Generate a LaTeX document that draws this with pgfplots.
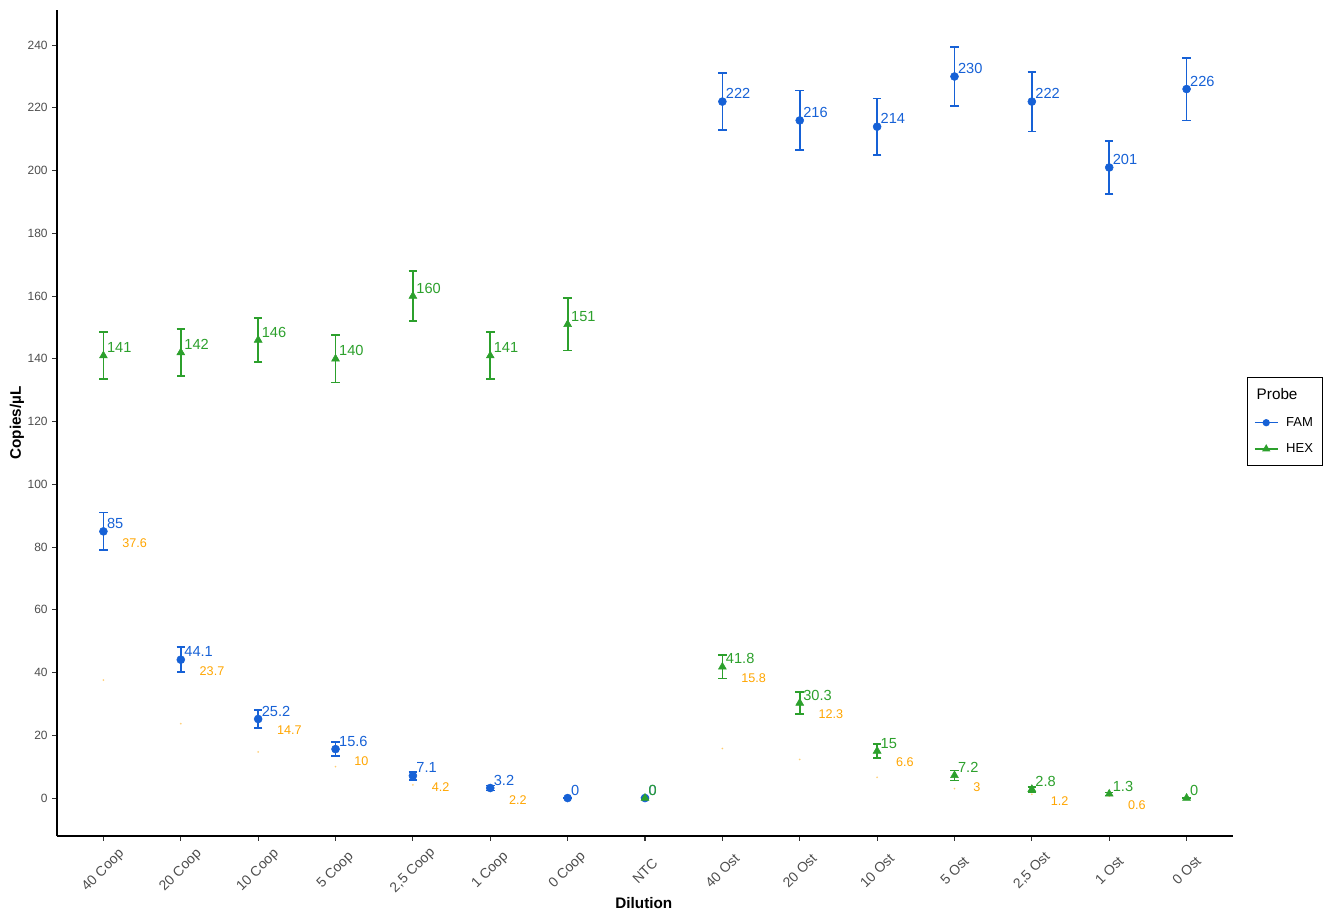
\documentclass[border=0pt]{standalone}
\usepackage{pgfplots}
\pgfplotsset{compat=1.18}
\usepackage{pgfplotstable}
\usepackage{fontspec}
\setmainfont{Liberation Sans}
\definecolor{famblue}{RGB}{22,97,214}
\definecolor{hexgreen}{RGB}{44,160,44}
\definecolor{lblorange}{RGB}{255,165,0}
\definecolor{tickgrey}{RGB}{77,77,77}

\pgfplotstableread{
x y e lab
0 85 6 85
1 44.1 4 44.1
2 25.2 2.8 25.2
3 15.6 2.2 15.6
4 7.1 1.3 7.1
5 3.2 0.8 3.2
6 0 0 0
7 0 0 0
8 222 9 222
9 216 9.5 216
10 214 9 214
11 230 9.5 230
12 222 9.5 222
13 201 8.5 201
14 226 10 226
}\famdata

\pgfplotstableread{
x y e lab
0 141 7.5 141
1 142 7.5 142
2 146 7 146
3 140 7.5 140
4 160 8 160
5 141 7.5 141
6 151 8.3 151
7 0 0 0
8 41.8 3.7 41.8
9 30.3 3.5 30.3
10 15 2.3 15
11 7.2 1.6 7.2
12 2.8 0.8 2.8
13 1.3 0.5 1.3
14 0 0 0
}\hexdata

\pgfplotstableread{
x yref val
0 85 37.6
1 44.1 23.7
2 25.2 14.7
3 15.6 10
4 7.1 4.2
5 3.2 2.2
8 41.8 15.8
9 30.3 12.3
10 15 6.6
11 7.2 3
12 2.8 1.2
13 1.3 0.6
}\orangedata

\begin{document}
\begin{tikzpicture}
\begin{axis}[
  name=ax,
  scale only axis,
  width=882bp, height=619.5bp,
  xmin=-0.6, xmax=14.6,
  ymin=-12.1, ymax=251.2,
  axis x line=bottom, axis y line=left,
  axis line style={-, line width=0.8bp, black},
  tick align=outside,
  major tick length=3.5bp,
  tick style={line width=0.8bp, color=black!80},
  xtick={0,...,14},
  xticklabels={40 Coop,20 Coop,10 Coop,5 Coop,{2,5 Coop},1 Coop,0 Coop,NTC,40 Ost,20 Ost,10 Ost,5 Ost,{2,5 Ost},1 Ost,0 Ost},
  ytick={0,20,...,240},
  /pgf/number format/assume math mode=true,
  xticklabel style={yshift=-22.5bp, rotate=45, anchor=center, font=\fontsize{10.5}{12}\selectfont, text=tickgrey},
  yticklabel style={font=\fontsize{9}{11}\selectfont, text=tickgrey},
  xlabel={\textbf{Dilution}},
  ylabel={\textbf{Copies/µL}},
  every axis x label/.style={at={(axis description cs:0.499,-0.0811)}, anchor=center, font=\fontsize{11.5}{13}\selectfont},
  every axis y label/.style={at={(axis description cs:-0.034,0.5)}, rotate=90, anchor=center, font=\fontsize{11.5}{13}\selectfont},
  legend style={at={(axis description cs:1.0119,0.5557)}, anchor=north west, draw=black, line width=0.8bp, font=\fontsize{9.8}{11}\selectfont, row sep=7.5bp, column sep=4bp, inner xsep=5bp, inner ysep=6.5bp},
  legend cell align=left,
  clip=false,
]
% orange faint points
\addplot[only marks, mark=*, mark size=0.5bp, color=lblorange, opacity=0.35, forget plot] table[x=x, y=val] {\orangedata};

% FAM
\addplot[only marks, color=famblue, mark=*, mark size=3bp, forget plot,
  error bars/.cd, y dir=both, y explicit,
  error bar style={line width=1.3bp, famblue},
  error mark options={rotate=90, mark size=3.2bp, line width=1.3bp, famblue}]
  table[x=x, y=y, y error=e] {\famdata};
\addplot[draw=none, forget plot, nodes near coords, point meta=explicit symbolic,
  every node near coord/.append style={anchor=base west, inner sep=0pt, xshift=2.5bp, yshift=2.2bp, text=famblue, font=\fontsize{11}{12}\selectfont}]
  table[x=x, y=y, meta=lab] {\famdata};

% HEX
\addplot[only marks, color=hexgreen, mark=triangle*, mark size=3.4bp, forget plot,
  error bars/.cd, y dir=both, y explicit,
  error bar style={line width=1.3bp, hexgreen},
  error mark options={rotate=90, mark size=3.2bp, line width=1.3bp, hexgreen}]
  table[x=x, y=y, y error=e] {\hexdata};
\addplot[draw=none, forget plot, nodes near coords, point meta=explicit symbolic,
  every node near coord/.append style={anchor=base west, inner sep=0pt, xshift=2.5bp, yshift=2.2bp, text=hexgreen, font=\fontsize{11}{12}\selectfont}]
  table[x=x, y=y, meta=lab] {\hexdata};

% orange labels
\addplot[draw=none, forget plot, nodes near coords, point meta=explicit symbolic,
  every node near coord/.append style={anchor=base west, inner sep=0pt, xshift=14bp, yshift=-12bp, text=lblorange, font=\fontsize{9.5}{11}\selectfont}]
  table[x=x, y=yref, meta=val] {\orangedata};

\addlegendimage{empty legend}
\addlegendentry{\hspace{-0.78cm}\fontsize{11.5}{13}\selectfont Probe}
\addlegendimage{famblue, line width=1bp, mark=*, mark size=2.2bp}
\addlegendentry{FAM}
\addlegendimage{hexgreen, line width=1bp, mark=triangle*, mark size=2.6bp}
\addlegendentry{HEX}
\end{axis}
\pgfresetboundingbox
\path (ax.south west) ++(-42.75bp,-55.5bp) rectangle ++(992.25bp,682.5bp);
\end{tikzpicture}
\end{document}
